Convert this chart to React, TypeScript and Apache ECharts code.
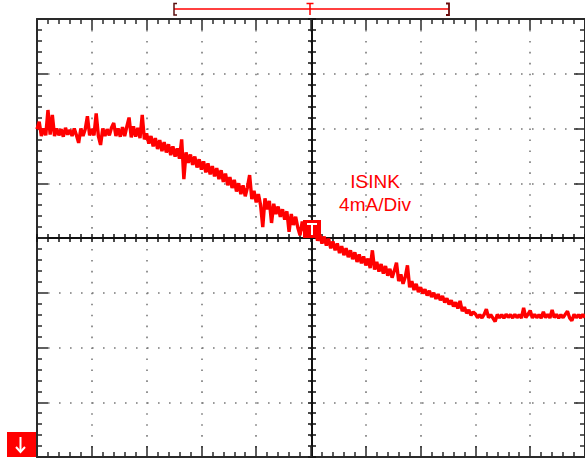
import React, { useEffect, useRef } from "react";
import * as echarts from "echarts";

// Oscilloscope capture: ISINK, 4 mA/div, 10 horizontal divisions, 8 vertical divisions.
// Samples are taken every 0.04 horizontal division; values are in mA.
const SAMPLE_DIV = 0.04;
const X_DIVS = [0, 10];
const Y_RANGE_MA = [-16, 16];
const MA_PER_DIV = 4;
const LABEL_LINES = ["ISINK", "4mA/Div"];

const highLevelA = [
  7.95, 8.5, 7.45, 8.0, 7.5, 9.35, 7.55, 9.0, 7.45, 8.0, 7.5, 7.95, 7.4, 8.05, 7.55, 7.9, 7.45, 8.0, 7.5, 6.95,
  8.0, 7.45, 7.95, 8.9, 7.5,
];
const highLevelB = [
  7.95, 7.5, 9.1, 7.45, 6.8, 8.0, 7.45, 7.95, 7.5, 8.05, 8.4, 7.45, 8.0, 7.4, 8.1, 7.45, 8.15, 8.8, 7.35, 8.15,
  7.4, 8.05, 7.3, 9.0, 7.2,
];
const rampA = [
  7.65, 6.9, 7.45, 6.7, 7.3, 6.5, 7.15, 6.35, 7.0, 6.25, 6.85, 6.05, 6.7, 5.95, 6.55, 5.8, 7.2, 4.3, 6.25, 5.5,
  6.1, 5.35, 5.95, 5.15, 5.75,
];
const rampB = [
  5.0, 5.6, 4.8, 5.45, 4.65, 5.25, 4.5, 5.1, 4.3, 4.95, 4.1, 4.7, 3.85, 4.45, 3.65, 4.25, 3.4, 4.0, 3.2, 3.85,
  3.05, 3.7, 4.6, 2.85, 3.45,
];
const rampC = [
  2.6, 3.2, 2.4, 0.8, 2.9, 2.1, 2.7, 1.1, 2.5, 1.75, 2.3, 1.55, 2.1, 1.35, 1.95, 0.45, 1.75, 0.95, 1.55, 0.75,
  0.2, 1.2, 0.5, 1.0, 0.3,
];
const rampD = [
  0.8, 0.05, 0.5, -0.2, 0.25, -0.4, 0.1, -0.55, -0.05, -0.75, -0.25, -0.9, -0.4, -1.1, -0.6, -1.25, -0.75, -1.4,
  -0.9, -1.55, -1.05, -1.75, -1.2, -1.85, -1.35,
];
const rampE = [
  -2.0, -1.5, -2.2, -0.9, -2.3, -1.75, -2.45, -1.9, -2.6, -2.05, -2.75, -2.25, -2.9, -2.4, -1.8, -3.15, -2.65,
  -3.35, -2.85, -2.0, -3.6, -3.15, -3.8, -3.35, -3.95,
];
const rampF = [
  -3.6, -4.05, -3.75, -4.2, -3.85, -4.3, -4.0, -4.45, -4.1, -4.55, -4.25, -4.7, -4.4, -4.85, -4.55, -5.0, -4.7,
  -5.15, -4.6, -5.35, -5.05, -5.5, -5.25, -5.65, -5.4,
];
const lowLevelA = [
  -5.55, -5.82, -5.6, -5.84, -5.58, -5.2, -5.82, -5.6, -5.85, -6.1, -5.58, -5.83, -5.6, -5.86, -5.57, -5.8, -5.6,
  -5.84, -5.58, -5.82, -5.6, -5.85, -5.1, -5.82, -5.58,
];
const lowLevelB = [
  -5.3, -5.84, -5.58, -5.82, -5.6, -5.86, -5.4, -5.82, -5.58, -5.84, -5.25, -5.82, -5.58, -5.86, -5.6, -5.82,
  -5.58, -5.35, -5.84, -6.05, -5.58, -5.82, -5.6, -5.84, -5.58, -5.8,
];

const trace = [
  ...highLevelA, ...highLevelB, ...rampA, ...rampB, ...rampC,
  ...rampD, ...rampE, ...rampF, ...lowLevelA, ...lowLevelB,
];

const GRID = { left: 37, top: 19, width: 550, height: 438 };
const RED = "#ff0000";
const FRAME = "#2a2a2a";
const CROSS = "#111111";

function borderAxis(extra: any) {
  return {
    type: "value",
    axisLine: { show: true, onZero: false, lineStyle: { color: FRAME, width: 2 } },
    axisTick: { show: true, inside: true, length: 11, lineStyle: { color: FRAME, width: 1.5 } },
    minorTick: { show: true, splitNumber: 5, length: 5, lineStyle: { color: FRAME, width: 1.5 } },
    axisLabel: { show: false },
    splitLine: { show: false },
    ...extra,
  };
}

function centerAxis(extra: any) {
  return {
    type: "value",
    axisLine: { show: true, onZero: false, lineStyle: { color: CROSS, width: 2 } },
    axisTick: { show: true, inside: false, length: 4, lineStyle: { color: CROSS, width: 1.5 } },
    minorTick: { show: true, splitNumber: 5, length: 4, lineStyle: { color: CROSS, width: 1.5 } },
    axisLabel: { show: false },
    splitLine: { show: false },
    ...extra,
  };
}

function hiddenAxis(extra: any) {
  return { type: "value", show: false, ...extra };
}

export default function App() {
  const ref = useRef<HTMLDivElement>(null);
  useEffect(() => {
    if (!ref.current) return;
    const chart = echarts.init(ref.current, null, { renderer: "svg" });
    const xr = { min: X_DIVS[0], max: X_DIVS[1], interval: 1 };
    const yr = { min: Y_RANGE_MA[0], max: Y_RANGE_MA[1], interval: MA_PER_DIV };
    const halfW = GRID.width / 2;
    const halfH = GRID.height / 2;
    const gridCx = GRID.left + halfW;
    const gridCy = GRID.top + halfH;
    chart.setOption({
      animation: false,
      backgroundColor: "#ffffff",
      grid: [
        { ...GRID, containLabel: false },
        { left: GRID.left, top: GRID.top, width: GRID.width, height: halfH, containLabel: false },
        { left: GRID.left, top: gridCy, width: GRID.width, height: halfH, containLabel: false },
        { left: GRID.left, top: GRID.top, width: halfW, height: GRID.height, containLabel: false },
        { left: gridCx, top: GRID.top, width: halfW, height: GRID.height, containLabel: false },
      ],
      xAxis: [
        borderAxis({
          ...xr, gridIndex: 0, position: "bottom",
          splitLine: { show: true, lineStyle: { color: "#7a7a7a", width: 1.6, type: [1.6, 9.35] } },
        }),
        borderAxis({ ...xr, gridIndex: 0, position: "top" }),
        centerAxis({ ...xr, gridIndex: 1, position: "bottom" }),
        centerAxis({ ...xr, gridIndex: 2, position: "top" }),
        hiddenAxis({ gridIndex: 3, min: 0, max: 5 }),
        hiddenAxis({ gridIndex: 4, min: 5, max: 10 }),
      ],
      yAxis: [
        borderAxis({
          ...yr, gridIndex: 0, position: "left",
          splitLine: { show: true, lineStyle: { color: "#7a7a7a", width: 1.6, type: [1.6, 9.4] } },
        }),
        borderAxis({ ...yr, gridIndex: 0, position: "right" }),
        hiddenAxis({ gridIndex: 1, min: 0, max: 16 }),
        hiddenAxis({ gridIndex: 2, min: -16, max: 0 }),
        centerAxis({ ...yr, gridIndex: 3, position: "right" }),
        centerAxis({ ...yr, gridIndex: 4, position: "left" }),
      ],
      series: [
        {
          type: "line",
          name: "ISINK",
          xAxisIndex: 0,
          yAxisIndex: 0,
          data: trace.map((v, i) => [i * SAMPLE_DIV, v]),
          symbol: "none",
          lineStyle: { color: RED, width: 3.4, join: "bevel" },
          z: 5,
        },
      ],
      graphic: [
        // trigger-position bar at top
        { type: "line", shape: { x1: 174, y1: 9, x2: 449, y2: 9 }, style: { stroke: RED, lineWidth: 1.6 }, z: 10 },
        { type: "polyline", shape: { points: [[177, 3.5], [174, 3.5], [174, 15], [177, 15]] }, style: { stroke: "#5a1010", lineWidth: 1.5, fill: null }, z: 11 },
        { type: "polyline", shape: { points: [[446, 3.5], [449, 3.5], [449, 15], [446, 15]] }, style: { stroke: "#6a0a0a", lineWidth: 1.8, fill: null }, z: 11 },
        { type: "line", shape: { x1: 310, y1: 3.5, x2: 310, y2: 15 }, style: { stroke: RED, lineWidth: 1.5 }, z: 11 },
        { type: "line", shape: { x1: 306.5, y1: 3.5, x2: 313.5, y2: 3.5 }, style: { stroke: RED, lineWidth: 1.5 }, z: 11 },
        // trigger level marker at center
        { type: "rect", shape: { x: gridCx - 9, y: gridCy - 18, width: 18, height: 18 }, style: { fill: RED }, z: 20 },
        { type: "line", shape: { x1: gridCx - 5, y1: gridCy - 14, x2: gridCx + 5, y2: gridCy - 14 }, style: { stroke: "#fff", lineWidth: 2 }, z: 21 },
        { type: "line", shape: { x1: gridCx, y1: gridCy - 14, x2: gridCx, y2: gridCy - 3 }, style: { stroke: "#fff", lineWidth: 2 }, z: 21 },
        // channel ground marker bottom-left
        { type: "rect", shape: { x: 7, y: 432, width: 29, height: 25 }, style: { fill: RED }, z: 20 },
        { type: "line", shape: { x1: 20.5, y1: 437, x2: 20.5, y2: 452 }, style: { stroke: "#fff", lineWidth: 2 }, z: 21 },
        { type: "polyline", shape: { points: [[16, 447], [20.5, 452], [25, 447]] }, style: { stroke: "#fff", lineWidth: 2, fill: null }, z: 21 },
        // channel label
        {
          type: "text", x: 375, y: 181, z: 20,
          style: { text: LABEL_LINES[0], fill: RED, font: "19px 'Liberation Sans', Arial, sans-serif", textAlign: "center", textVerticalAlign: "middle" },
        },
        {
          type: "text", x: 375, y: 204, z: 20,
          style: { text: LABEL_LINES[1], fill: RED, font: "19px 'Liberation Sans', Arial, sans-serif", textAlign: "center", textVerticalAlign: "middle" },
        },
      ],
    });
    return () => chart.dispose();
  }, []);
  return (
    <div
      ref={ref}
      style={{ position: "fixed", left: 0, top: 0, width: 585, height: 460, background: "#fff" }}
    />
  );
}
